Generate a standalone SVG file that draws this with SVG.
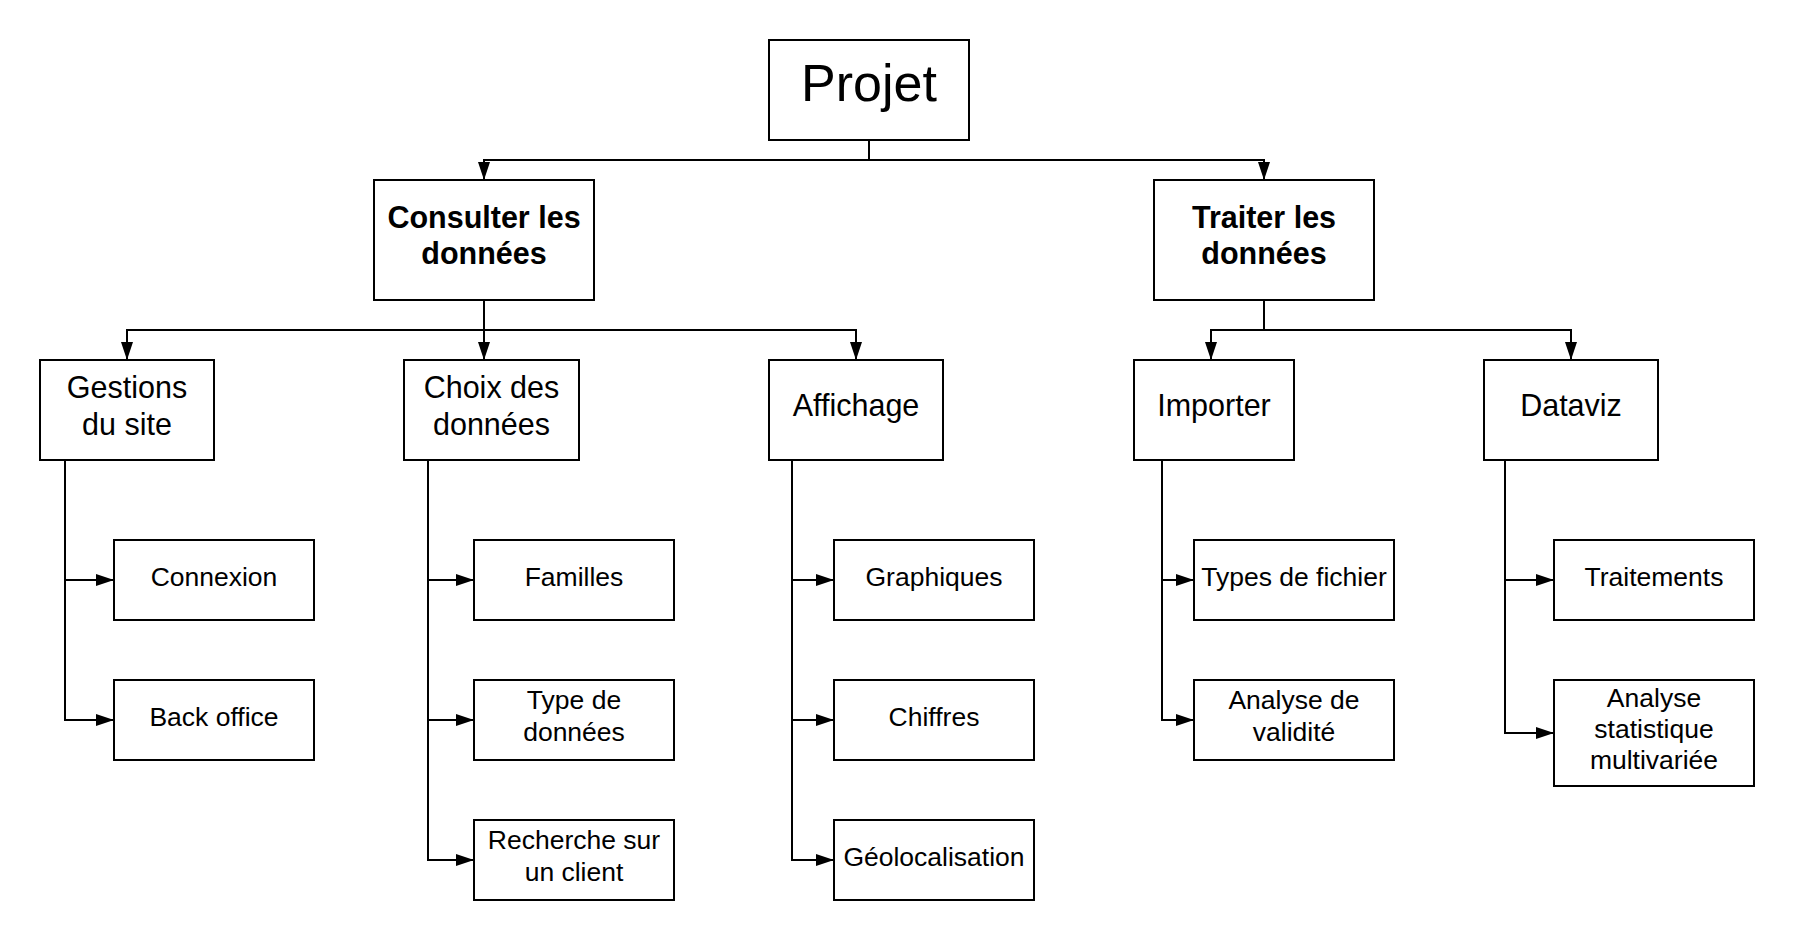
<svg xmlns="http://www.w3.org/2000/svg" width="1794" height="940" viewBox="0 0 1794 940">
<style>
  .box { fill: #ffffff; stroke: #000000; stroke-width: 2; }
  .lbl { font-family: "Liberation Sans", Arial, sans-serif; fill: #000000; text-anchor: middle; }
  .t0 { font-size: 52px; }
  .t1 { font-size: 30.5px; font-weight: bold; }
  .t2 { font-size: 30.5px; }
  .t3 { font-size: 26.5px; }
  .conn { fill: none; stroke: #000000; stroke-width: 2; stroke-linejoin: miter; marker-end: url(#arr); }
</style>
<defs>
  <marker id="arr" markerUnits="userSpaceOnUse" markerWidth="20" markerHeight="14" refX="18" refY="6" orient="auto">
    <path d="M0,0 L18,6 L0,12 Z" fill="#000000"/>
  </marker>
</defs>
<rect width="1794" height="940" fill="#ffffff"/>
<g id="connectors">
  <path class="conn" d="M869,140 V160 H484 V180"/>
  <path class="conn" d="M869,140 V160 H1264 V180"/>
  <path class="conn" d="M484,300 V330 H127 V360"/>
  <path class="conn" d="M484,300 V360"/>
  <path class="conn" d="M484,330 H856 V360"/>
  <path class="conn" d="M1264,300 V330 H1211 V360"/>
  <path class="conn" d="M1264,330 H1571 V360"/>
  <path class="conn" d="M65,460 V580 H114"/>
  <path class="conn" d="M65,580 V720 H114"/>
  <path class="conn" d="M428,460 V580 H474"/>
  <path class="conn" d="M428,580 V720 H474"/>
  <path class="conn" d="M428,720 V860 H474"/>
  <path class="conn" d="M792,460 V580 H834"/>
  <path class="conn" d="M792,580 V720 H834"/>
  <path class="conn" d="M792,720 V860 H834"/>
  <path class="conn" d="M1162,460 V580 H1194"/>
  <path class="conn" d="M1162,580 V720 H1194"/>
  <path class="conn" d="M1505,460 V580 H1554"/>
  <path class="conn" d="M1505,580 V733 H1554"/>
</g>
<g id="projet">
  <rect class="box" x="769" y="40" width="200" height="100"/>
  <text class="lbl t0" x="869" y="101">Projet</text>
</g>
<g id="consulter">
  <rect class="box" x="374" y="180" width="220" height="120"/>
  <text class="lbl t1" x="484" y="228">Consulter les</text>
  <text class="lbl t1" x="484" y="264">données</text>
</g>
<g id="traiter">
  <rect class="box" x="1154" y="180" width="220" height="120"/>
  <text class="lbl t1" x="1264" y="228">Traiter les</text>
  <text class="lbl t1" x="1264" y="264">données</text>
</g>
<g id="gestions">
  <rect class="box" x="40" y="360" width="174" height="100"/>
  <text class="lbl t2" x="127" y="398">Gestions</text>
  <text class="lbl t2" x="127" y="435">du site</text>
</g>
<g id="choix">
  <rect class="box" x="404" y="360" width="175" height="100"/>
  <text class="lbl t2" x="491.5" y="398">Choix des</text>
  <text class="lbl t2" x="491.5" y="435">données</text>
</g>
<g id="affichage">
  <rect class="box" x="769" y="360" width="174" height="100"/>
  <text class="lbl t2" x="856" y="416">Affichage</text>
</g>
<g id="importer">
  <rect class="box" x="1134" y="360" width="160" height="100"/>
  <text class="lbl t2" x="1214" y="416">Importer</text>
</g>
<g id="dataviz">
  <rect class="box" x="1484" y="360" width="174" height="100"/>
  <text class="lbl t2" x="1571" y="416">Dataviz</text>
</g>
<g id="connexion">
  <rect class="box" x="114" y="540" width="200" height="80"/>
  <text class="lbl t3" x="214" y="586">Connexion</text>
</g>
<g id="backoffice">
  <rect class="box" x="114" y="680" width="200" height="80"/>
  <text class="lbl t3" x="214" y="726">Back office</text>
</g>
<g id="familles">
  <rect class="box" x="474" y="540" width="200" height="80"/>
  <text class="lbl t3" x="574" y="586">Familles</text>
</g>
<g id="typedonnees">
  <rect class="box" x="474" y="680" width="200" height="80"/>
  <text class="lbl t3" x="574" y="709">Type de</text>
  <text class="lbl t3" x="574" y="741">données</text>
</g>
<g id="recherche">
  <rect class="box" x="474" y="820" width="200" height="80"/>
  <text class="lbl t3" x="574" y="849">Recherche sur</text>
  <text class="lbl t3" x="574" y="881">un client</text>
</g>
<g id="graphiques">
  <rect class="box" x="834" y="540" width="200" height="80"/>
  <text class="lbl t3" x="934" y="586">Graphiques</text>
</g>
<g id="chiffres">
  <rect class="box" x="834" y="680" width="200" height="80"/>
  <text class="lbl t3" x="934" y="726">Chiffres</text>
</g>
<g id="geolocalisation">
  <rect class="box" x="834" y="820" width="200" height="80"/>
  <text class="lbl t3" x="934" y="866">Géolocalisation</text>
</g>
<g id="typesfichier">
  <rect class="box" x="1194" y="540" width="200" height="80"/>
  <text class="lbl t3" x="1294" y="586">Types de fichier</text>
</g>
<g id="validite">
  <rect class="box" x="1194" y="680" width="200" height="80"/>
  <text class="lbl t3" x="1294" y="709">Analyse de</text>
  <text class="lbl t3" x="1294" y="741">validité</text>
</g>
<g id="traitements">
  <rect class="box" x="1554" y="540" width="200" height="80"/>
  <text class="lbl t3" x="1654" y="586">Traitements</text>
</g>
<g id="analysestat">
  <rect class="box" x="1554" y="680" width="200" height="106"/>
  <text class="lbl t3" x="1654" y="707">Analyse</text>
  <text class="lbl t3" x="1654" y="738">statistique</text>
  <text class="lbl t3" x="1654" y="769">multivariée</text>
</g>
</svg>
